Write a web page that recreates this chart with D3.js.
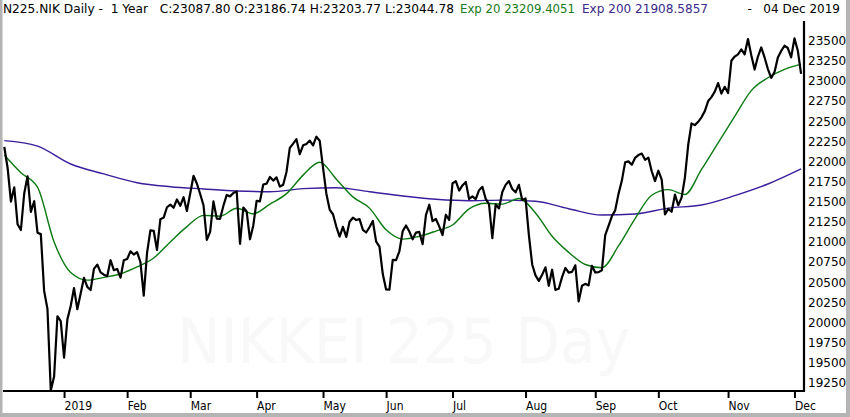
<!DOCTYPE html>
<html><head><meta charset="utf-8">
<script src="https://cdn.jsdelivr.net/npm/d3@7"></script>
<style>body{margin:0;background:#fff;overflow:hidden} svg{display:block}</style>
</head><body><svg id="c" width="850" height="417"></svg>
<script>
// Daily closes, one per trading session (04 Dec 2018 .. 04 Dec 2019)
const closes = [
22180,21919,21501,21678,21219,21148,21602,21816,21374,21506,21115,21097,20392,20166,19155,19327,20077,20015,
19561,20038,20204,20427,20164,20359,20555,20442,20402,20666,20719,20622,20593,20574,20773,20649,20664,20556,20773,
20788,20883,20844,20874,20751,20333,20864,21144,21139,20900,21281,21302,21431,21464,21425,21528,21449,21556,21385,
21602,21822,21726,21596,21456,21025,21125,21503,21290,21287,21450,21584,21566,21608,21627,20977,21428,21378,21033,21205,
21509,21505,21713,21724,21807,21762,21802,21687,21711,21870,22169,22221,22277,22090,22200,22217,22259,22200,22307,22258,
21923,21602,21402,21344,21191,21067,21188,21062,21250,21301,21272,21283,21151,21117,21182,21260,21003,20942,20601,
20410,20408,20776,20774,20884,21134,21204,21129,21032,21116,21124,20972,21333,21462,21258,21285,21193,21086,21338,21275,
21729,21754,21638,21702,21746,21534,21565,21533,21643,21685,21535,21469,21046,21466,21416,21620,21709,21756,21658,21616,21709,21521,
21540,21087,20720,20585,20516,20593,20684,20455,20655,20405,20418,20563,20677,20618,20628,20710,20261,20456,20479,20460,20704,
20620,20625,20649,21085,21199,21318,21392,21597,21759,21988,22001,21960,22044,22079,22098,22020,22048,21878,21756,
21885,21778,21341,21410,21375,21587,21456,21551,21798,22207,22472,22451,22492,22548,22625,22750,22799,22867,22974,22843,22927,
22850,23251,23303,23330,23391,23331,23520,23319,23141,23303,23416,23292,23148,23038,23112,23292,23373,23437,23409,23293,
23529,23379,23088
];
// Exp 20, read every 5th session
const exp20Step = 5;
const exp20 = [22080,21860,21680,21000,20620,20525,20560,20605,20690,20800,21000,21190,21330,21320,21418,21350,21470,21600,21830,21990,
21780,21560,21420,21150,21035,21070,21135,21210,21410,21480,21470,21540,21360,21070,20870,20720,20680,20950,21290,21580,
21650,21590,21900,22230,22560,22880,23040,23145,23209];
// Exp 200, read every 10th session
const exp200Step = 10;
const exp200 = [22258,22190,21968,21845,21736,21686,21658,21633,21624,21662,21674,21624,21570,21530,21512,21520,21505,21413,21335,21347,
21420,21459,21575,21720,21908];
// first session of each month (session index) and labels
const monthTickIdx = [18,37,56,76,96,115,135,157,178,197,218,238];
const monthLabels = ["2019","Feb","Mar","Apr","May","Jun","Jul","Aug","Sep","Oct","Nov","Dec"];
const priceTicks = [19250,19500,19750,20000,20250,20500,20750,21000,21250,21500,21750,22000,22250,22500,22750,23000,23250,23500];
const headerMain = "N225.NIK Daily -  1 Year   C:23087.80 O:23186.74 H:23203.77 L:23044.78";
const headerExp20 = "Exp 20 23209.4051";
const headerExp200 = "Exp 200 21908.5857";
const headerDate = "-   04 Dec 2019";
const watermark = "NIKKEI 225 Day";

const svg = d3.select("#c");
const font = "'DejaVu Sans', Verdana, sans-serif";

const x = d3.scaleLinear().domain([0, 240]).range([4.3, 801.1]);
const y = d3.scaleLinear().domain([19250, 23500]).range([382.8, 40.7]);

// outer frame
svg.append("rect").attr("x",0).attr("y",0).attr("width",850).attr("height",417).attr("fill","#fff");
svg.append("rect").attr("x",0).attr("y",0).attr("width",2.5).attr("height",417).attr("fill","#b4b4b4");
svg.append("rect").attr("x",846).attr("y",0).attr("width",4).attr("height",417).attr("fill","#b4b4b4");
svg.append("rect").attr("x",0).attr("y",413).attr("width",850).attr("height",4).attr("fill","#b4b4b4");

// watermark
svg.append("text").attr("x",177).attr("y",363).attr("font-family",font).attr("font-size",63)
  .attr("textLength",453).attr("lengthAdjust","spacingAndGlyphs")
  .attr("fill","#f8f8f8").text(watermark);

// lines
const lineClose = d3.line().x((d,i)=>x(i)).y(d=>y(d));
const line20 = d3.line().x((d,i)=>x(i*exp20Step)).y(d=>y(d)).curve(d3.curveMonotoneX);
const line200 = d3.line().x((d,i)=>x(i*exp200Step)).y(d=>y(d)).curve(d3.curveMonotoneX);

svg.append("path").datum(exp200).attr("d",line200).attr("fill","none")
  .attr("stroke","#3a1e9c").attr("stroke-width",1.4);
svg.append("path").datum(exp20).attr("d",line20).attr("fill","none")
  .attr("stroke","#0b7a12").attr("stroke-width",1.4);
svg.append("path").datum(closes).attr("d",lineClose).attr("fill","none")
  .attr("stroke","#000").attr("stroke-width",2.2).attr("stroke-linejoin","round");

// bottom axis
const xAxis = d3.axisBottom(x).tickValues(monthTickIdx)
  .tickFormat((d,i)=>monthLabels[i]).tickSizeInner(6).tickSizeOuter(0).tickPadding(3);
const gx = svg.append("g").attr("transform","translate(0,392)").call(xAxis);
gx.select(".domain").remove();
gx.selectAll(".tick line").attr("stroke","#000").attr("stroke-width",2);
gx.selectAll(".tick text").attr("text-anchor","start").attr("x",0)
  .attr("font-family","'DejaVu Sans Condensed','Liberation Sans Narrow',sans-serif")
  .attr("font-size",12).attr("fill","#000");
svg.append("line").attr("x1",3).attr("x2",805).attr("y1",391).attr("y2",391)
  .attr("stroke","#000").attr("stroke-width",2.2);

// right axis
const yAxis = d3.axisRight(y).tickValues(priceTicks).tickFormat(d3.format("d")).tickSize(0).tickPadding(4);
const gy = svg.append("g").attr("transform","translate(804,0)").call(yAxis);
gy.select(".domain").remove();
gy.selectAll(".tick text").attr("font-family",font).attr("font-size",12).attr("fill","#000");
svg.append("line").attr("x1",804).attr("x2",804).attr("y1",21).attr("y2",392)
  .attr("stroke","#000").attr("stroke-width",2.2);

// header
const hdr = svg.append("g").attr("font-family",font).attr("font-size",12);
hdr.append("text").attr("x",3).attr("y",13).attr("fill","#000")
  .attr("textLength",451).attr("lengthAdjust","spacingAndGlyphs").style("white-space","pre").text(headerMain);
hdr.append("text").attr("x",460).attr("y",13).attr("fill","#1a7a1a")
  .attr("textLength",115).attr("lengthAdjust","spacingAndGlyphs").text(headerExp20);
hdr.append("text").attr("x",582).attr("y",13).attr("fill","#3b2a8c")
  .attr("textLength",126).attr("lengthAdjust","spacingAndGlyphs").text(headerExp200);
hdr.append("text").attr("x",840).attr("y",13).attr("text-anchor","end").attr("fill","#000")
  .style("white-space","pre").text(headerDate);
</script>
</body></html>
